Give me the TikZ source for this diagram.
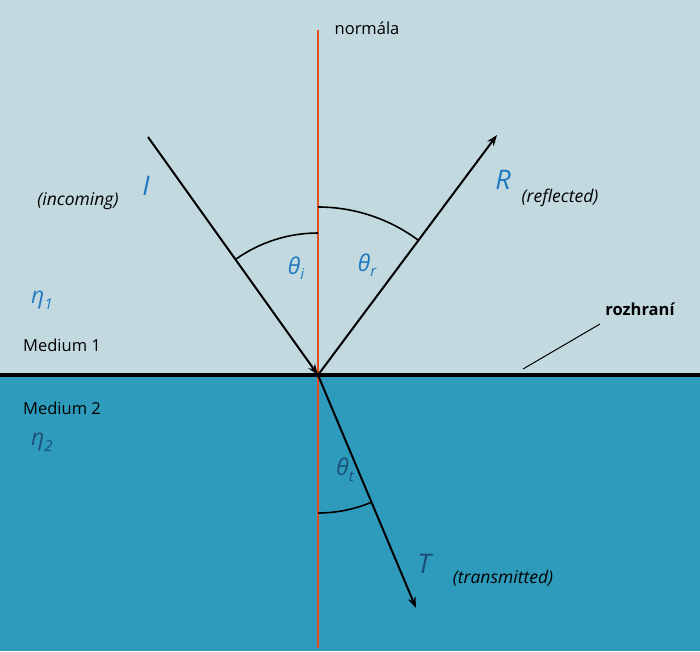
\documentclass[tikz,border=0pt]{standalone}
\usepackage{fontspec}
\setmainfont{Open Sans}
\usetikzlibrary{arrows.meta}
\definecolor{topblue}{HTML}{C2D9DF}
\definecolor{botblue}{HTML}{2E9BBC}
\definecolor{normred}{HTML}{E2501F}
\definecolor{labblue}{HTML}{1F78C0}
\definecolor{darkblue}{HTML}{1A4F78}
\newcommand{\sub}[1]{\raisebox{-0.45ex}{\fontsize{15}{15}\selectfont #1}}
\begin{document}
\begin{tikzpicture}[x=1pt,y=-1pt,
  ray/.style={line width=2pt,-{Stealth[length=11pt,width=8pt]}},
  arcline/.style={line width=1.6pt},
  txt/.style={font=\fontsize{16.5}{18}\selectfont},
  itxt/.style={font=\fontsize{17.5}{19}\selectfont\itshape},
  greek/.style={font=\fontsize{23}{25}\selectfont\itshape,text=labblue},
  big/.style={font=\fontsize{27}{29}\selectfont\itshape,text=labblue}]
\useasboundingbox (0,0) rectangle (700,651);
% media
\fill[topblue] (0,0) rectangle (700,375);
\fill[botblue] (0,375) rectangle (700,651);
% normal and interface
\coordinate (O) at (318,375);
\coordinate (ntop) at (318,30);
\coordinate (nbot) at (318,648);
\draw[normred,line width=1.8pt] (ntop) -- (nbot);
\draw[line width=3.5pt] (0,375) -- (700,375);
% rays
\coordinate (Istart) at (148,137);
\coordinate (Rend) at (497,135);
\coordinate (Tend) at (416,608);
\draw[ray] (Istart) -- (O);
\draw[ray] (O) -- (Rend);
\draw[ray] (O) -- (Tend);
% angle arcs
\draw[arcline] (318,233) arc[start angle=-90,end angle=-125.5,radius=142];
\draw[arcline] (318,207) arc[start angle=-90,end angle=-53.3,radius=168];
\draw[arcline] (318,513) arc[start angle=90,end angle=67.2,radius=138];
% labels
\node[txt] (normala) at (367,28) {normála};
\node[greek] (thi) at (296,268) {θ\sub{i}};
\node[greek] (thr) at (367,265) {θ\sub{r}};
\node[greek,text=darkblue] (tht) at (345,470) {θ\sub{t}};
\node[big] (I) at (146,186) {I};
\node[itxt] (inc) at (78,201) {(incoming)};
\node[big] (R) at (503,180) {R};
\node[itxt] (refl) at (560,198) {(reflected)};
\node[big,text=darkblue] (T) at (424,564) {T};
\node[itxt] (trans) at (503,578) {(transmitted)};
\node[greek] (eta1) at (42,300) {η\sub{1}};
\node[txt] (m1) at (62,345) {Medium 1};
\node[txt] (m2) at (62,408) {Medium 2};
\node[greek,text=darkblue] (eta2) at (42,442) {η\sub{2}};
\node[txt,font=\fontsize{16.5}{18}\selectfont\bfseries] (rozhr) at (640,309) {rozhraní};
\coordinate (rz) at (523,369);
\draw[line width=1pt] (600,324) -- (rz);
\end{tikzpicture}
\end{document}
